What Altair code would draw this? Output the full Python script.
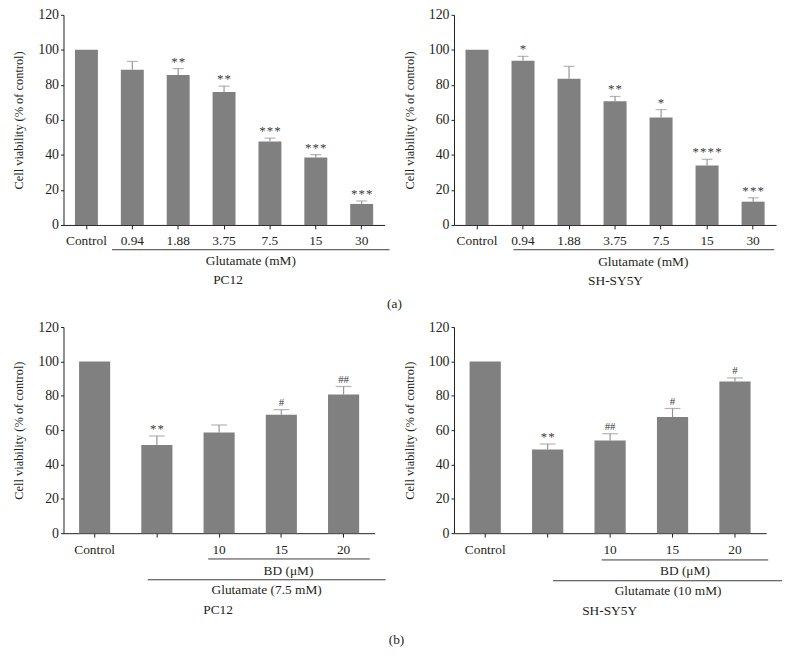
import altair as alt
import pandas as pd

FONT = "Liberation Serif"
BAR = "#808080"
ERR = "#959595"
INK = "#231f20"

# ---------- data ----------
a_cats = ["Control", "0.94", "1.88", "3.75", "7.5", "15", "30"]
a1_vals = [100, 88.7, 85.7, 75.9, 47.6, 38.5, 12.0]
a1_errs = [0, 4.7, 3.6, 3.4, 2.0, 1.7, 1.7]
a1_sig = ["", "", "**", "**", "***", "***", "***"]

a2_vals = [100, 93.8, 83.5, 70.6, 61.4, 33.9, 13.3]
a2_errs = [0, 2.5, 7.1, 2.8, 4.5, 3.6, 2.2]
a2_sig = ["", "*", "", "**", "*", "****", "***"]

b_cats = ["Control", "Glutamate", "10", "15", "20"]
b1_vals = [100, 51.4, 58.6, 69.0, 80.7]
b1_errs = [0, 5.2, 4.4, 2.9, 4.7]
b1_sig = ["", "**", "", "#", "##"]

b2_vals = [100, 48.7, 54.0, 67.6, 88.3]
b2_errs = [0, 3.2, 3.9, 5.0, 2.1]
b2_sig = ["", "**", "##", "#", "#"]

y_ticks = [0, 20, 40, 60, 80, 100, 120]
y_title = "Cell viability (% of control)"

Y_AXIS = alt.Axis(
    values=y_ticks, tickCount=7, title=y_title, grid=False, tickSize=3,
    labelPadding=2, titlePadding=12, labelFontSize=14,
    labelOverlap=False, labelFont=FONT, labelColor=INK,
    titleFont=FONT, titleFontSize=12.5, titleFontWeight="normal",
    titleColor=INK, domainColor=INK, tickColor=INK,
)
Y_SCALE = alt.Scale(domain=[0, 120], nice=False)


def ymk(field):
    return alt.Y(field, scale=Y_SCALE, axis=Y_AXIS, title=y_title)


def panel(cats, vals, errs, sig, W, H, cap, texts, rules):
    df = pd.DataFrame({"cat": cats, "value": vals, "err": errs, "sig": sig})
    df["upper"] = df["value"] + df["err"]
    df["shown"] = ["\u200a".join(s) for s in sig]
    base = alt.Chart(df)
    x = alt.X(
        "cat:N",
        sort=cats,
        scale=alt.Scale(paddingInner=0.5, paddingOuter=0.25),
        axis=alt.Axis(
            title=None, labelAngle=0, tickSize=4, labelPadding=5,
            labelFontSize=13.5, labelFont=FONT, labelColor=INK,
            domainColor=INK, tickColor=INK,
            labelExpr="datum.value == 'Glutamate' ? '' : datum.label",
        ),
    )
    xs = alt.X("cat:N", sort=cats)
    bars = base.mark_bar(color=BAR).encode(x=x, y=ymk("value:Q"))
    eb = base.transform_filter("datum.err > 0")
    rule = eb.mark_rule(color=ERR, strokeWidth=1.2).encode(
        x=xs, y=ymk("value:Q"), y2="upper:Q")
    caps = eb.mark_tick(color=ERR, size=cap, thickness=1.2).encode(
        x=xs, y=ymk("upper:Q"))
    stars = base.transform_filter("indexof(datum.sig, '*') >= 0").mark_text(
        font=FONT, fontSize=13, color="#3a3a3a", baseline="bottom", dy=0
    ).encode(x=xs, y=ymk("upper:Q"), text="shown:N")
    hashes = base.transform_filter("indexof(datum.sig, '#') >= 0").mark_text(
        font=FONT, fontSize=11, color="#3a3a3a", baseline="bottom", dy=-2
    ).encode(x=xs, y=ymk("upper:Q"), text="sig:N")
    layers = [bars, rule, caps, stars, hashes]
    one = pd.DataFrame({"k": [0]})
    for (txt, px, py, fs) in texts:
        layers.append(
            alt.Chart(one).mark_text(
                text=txt, font=FONT, fontSize=fs, color=INK,
                align="center", baseline="middle",
            ).encode(x=alt.value(px), y=alt.value(py))
        )
    for (x1, x2, py) in rules:
        layers.append(
            alt.Chart(one).mark_rule(color="#3a3a3a", strokeWidth=1).encode(
                x=alt.value(x1), x2=alt.value(x2), y=alt.value(py))
        )
    return alt.layer(*layers).properties(width=W, height=H)


p1 = panel(a_cats, a1_vals, a1_errs, a1_sig, 324, 212, 11,
           [("Glutamate (mM)", 189, 248, 13.5), ("PC12", 166, 268, 13.5),
            ("(a)", 334, 292, 13.5)],
           [(49, 329, 237)])
p2 = panel(a_cats, a2_vals, a2_errs, a2_sig, 325, 212, 11,
           [("Glutamate (mM)", 191, 249, 13.5), ("SH-SY5Y", 163, 269, 13.5)],
           [(60, 323, 237)])
p3 = panel(b_cats, b1_vals, b1_errs, b1_sig, 314, 208, 16,
           [("BD (μM)", 227, 246, 13.5), ("Glutamate (7.5 mM)", 205, 265, 13.5),
            ("PC12", 156, 286, 13.5), ("(b)", 336, 316, 13.5)],
           [(146, 309, 234), (85, 325, 255)])
p4 = panel(b_cats, b2_vals, b2_errs, b2_sig, 315, 208, 16,
           [("BD (μM)", 233, 246, 13.5), ("Glutamate (10 mM)", 216, 266, 13.5),
            ("SH-SY5Y", 157, 287, 13.5)],
           [(149, 317, 235), (100, 331, 256)])

chart = alt.concat(
    p1, p2, p3, p4, columns=2, bounds="flush",
    spacing={"row": 103, "column": 70},
).properties(
    padding={"left": 5, "top": -3, "right": 5, "bottom": 5}
).configure(background="white").configure_view(stroke=None)

chart.save("out.html", embed_options={"renderer": "svg", "actions": False})
